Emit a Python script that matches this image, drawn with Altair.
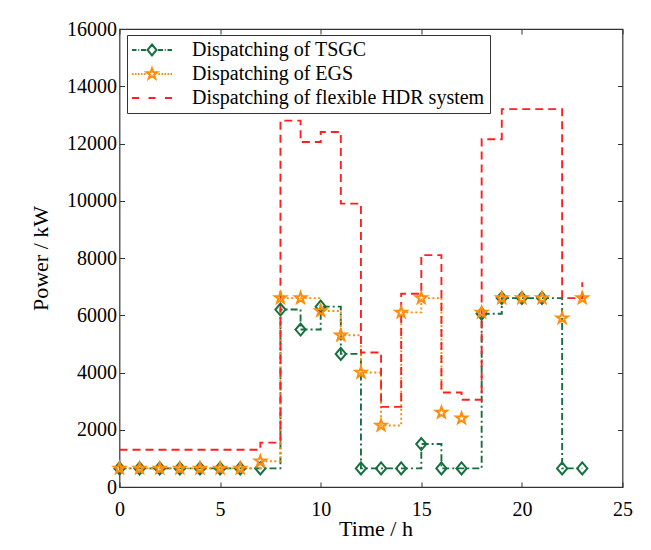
import altair as alt
import pandas as pd

# ---------------- data ----------------
hours = list(range(24))
tsgc = [650, 650, 650, 650, 650, 650, 650, 650, 6200, 5500, 6300, 4650,
        650, 650, 650, 1500, 650, 650, 6050, 6600, 6600, 6600, 650, 650]
egs = [650, 650, 650, 650, 650, 650, 650, 900, 6600, 6600, 6150, 5300,
       4000, 2150, 6100, 6600, 2600, 2400, 6100, 6600, 6600, 6600, 5900, 6600]
hdr = [1300, 1300, 1300, 1300, 1300, 1300, 1300, 1550, 12800, 12050, 12400, 9900,
       4700, 2800, 6750, 8100, 3300, 3050, 12150, 13200, 13200, 13200, 6600, 7150]
# the EGS stair line in the figure stops at hour 16
egs_line_hours = list(range(17))
egs_line = [650, 650, 650, 650, 650, 650, 650, 900, 6600, 6600, 6150, 5300,
            4000, 2150, 6100, 6600, 3300]

series = ["Dispatching of TSGC", "Dispatching of EGS",
          "Dispatching of flexible HDR system"]
x_ticks = [0, 5, 10, 15, 20, 25]
y_ticks = [0, 2000, 4000, 6000, 8000, 10000, 12000, 14000, 16000]

# ---------------- styling ----------------
GREEN = "#15703f"
ORANGE = "#ff8c0a"
RED = "#ff1f1f"
FONT = "Liberation Serif"
AX = "#333333"

df_t = pd.DataFrame({"hour": hours, "value": tsgc})
df_e = pd.DataFrame({"hour": hours, "value": egs})
df_h = pd.DataFrame({"hour": hours, "value": hdr})
df_el = pd.DataFrame({"hour": egs_line_hours, "value": egs_line})
df_leg = pd.concat([
    pd.DataFrame({"hour": hours, "value": tsgc, "series": series[0]}),
    pd.DataFrame({"hour": hours, "value": egs, "series": series[1]}),
    pd.DataFrame({"hour": hours, "value": hdr, "series": series[2]}),
])

xs = alt.Scale(domain=[0, 25], nice=False, zero=False)
ys = alt.Scale(domain=[0, 16000], nice=False)

DIAMOND = "M0,-1L0.85,0L0,1L-0.85,0Z"
STAR = ("M0,-1L0.235,-0.324L0.951,-0.309L0.380,0.124L0.588,0.809L0,0.4"
        "L-0.588,0.809L-0.380,0.124L-0.951,-0.309L-0.235,-0.324Z")


def seg(a, b):
    return f"M{a:.2f},0L{b:.2f},0"


# legend symbols: line sample + marker (scale: 5 px per unit)
leg_green = (seg(-4, -3.1) + seg(-2.75, -2.55) + seg(-2.2, -1.2)
             + "M0,-1.1L0.9,0L0,1.1L-0.9,0Z"
             + seg(1.2, 2.2) + seg(2.55, 2.75) + seg(3.1, 4))
dots_l = "".join(seg(-4 + i * 0.6, -4 + i * 0.6 + 0.3) for i in range(5))
dots_r = "".join(seg(1.3 + i * 0.6, 1.3 + i * 0.6 + 0.3) for i in range(5))
leg_orange = (dots_l
              + "M0,-1.15L0.27,-0.37L1.09,-0.36L0.44,0.14L0.68,0.93L0,0.46"
                "L-0.68,0.93L-0.44,0.14L-1.09,-0.36L-0.27,-0.37Z"
              + dots_r)
leg_red = seg(-4, -2.6) + seg(-0.7, 0.7) + seg(2.6, 4)

# ---------------- axes ----------------
x_main = alt.Axis(values=x_ticks, title="Time / h", ticks=False, tickSize=0,
                  domain=False, grid=False, labelFont=FONT, labelFontSize=20,
                  labelColor="black", labelPadding=12, labelFlush=False,
                  labelOverlap=False, format="d", titleFont=FONT,
                  titleFontSize=22, titleFontWeight="normal",
                  titleColor="black", titleX=256, titleY=48.5,
                  titleBaseline="alphabetic")
y_main = alt.Axis(values=y_ticks, title="Power / kW", ticks=False, tickSize=0,
                  domain=False, grid=False, labelFont=FONT, labelFontSize=20,
                  labelColor="black", labelPadding=3, labelFlush=False,
                  labelOverlap=False, format="d", titleFont=FONT,
                  titleFontSize=22, titleFontWeight="normal",
                  titleColor="black", titleX=-72, titleY=229,
                  titleBaseline="alphabetic")


def tick_axis(orient, vals):
    return alt.Axis(orient=orient, values=vals, labels=False, domain=False,
                    grid=False, ticks=True, tickSize=5, offset=-5,
                    tickColor=AX, tickWidth=1, title=None)


# ---------------- layers ----------------
line_t = alt.Chart(df_t).mark_line(
    interpolate="step-after", color=GREEN, strokeWidth=1.9,
    strokeDash=[7, 3, 2, 3]
).encode(
    x=alt.X("hour:Q", scale=xs, axis=x_main),
    y=alt.Y("value:Q", scale=ys, axis=y_main),
)

line_e = alt.Chart(df_el).mark_line(
    interpolate="step-after", color=ORANGE, strokeWidth=1.9,
    strokeDash=[2, 2.5]
).encode(
    x=alt.X("hour:Q", scale=xs, axis=tick_axis("bottom", x_ticks)),
    y=alt.Y("value:Q", scale=ys, axis=tick_axis("left", y_ticks)),
)

line_h = alt.Chart(df_h).mark_line(
    interpolate="step-after", color=RED, strokeWidth=1.9,
    strokeDash=[8, 5]
).encode(
    x=alt.X("hour:Q", scale=xs, axis=tick_axis("top", x_ticks)),
    y=alt.Y("value:Q", scale=ys, axis=tick_axis("right", y_ticks)),
)

pts_t = alt.Chart(df_t).mark_point(
    shape=DIAMOND, size=144, filled=False, color=GREEN, strokeWidth=2,
    opacity=1
).encode(
    x=alt.X("hour:Q", scale=xs, axis=None),
    y=alt.Y("value:Q", scale=ys, axis=None),
)

pts_e = alt.Chart(df_e).mark_point(
    shape=STAR, size=135, filled=False, color=ORANGE, strokeWidth=2,
    opacity=1
).encode(
    x=alt.X("hour:Q", scale=xs, axis=None),
    y=alt.Y("value:Q", scale=ys, axis=None),
)

legend = alt.Legend(
    title=None, orient="none", legendX=7.5, legendY=6,
    labelFont=FONT, labelFontSize=20, labelColor="black",
    symbolSize=100, symbolStrokeWidth=2, symbolOpacity=1,
    symbolOffset=10, labelOffset=30, rowPadding=4, padding=5,
    strokeColor=AX, fillColor="white", labelLimit=400,
)

leg_layer = alt.Chart(df_leg).mark_point(filled=False, opacity=0).encode(
    x=alt.X("hour:Q", scale=xs, axis=None),
    y=alt.Y("value:Q", scale=ys, axis=None),
    color=alt.Color("series:N",
                    scale=alt.Scale(domain=series, range=[GREEN, ORANGE, RED]),
                    legend=legend),
    shape=alt.Shape("series:N",
                    scale=alt.Scale(domain=series,
                                    range=[leg_green, leg_orange, leg_red]),
                    legend=legend),
)

chart = alt.layer(
    line_t, line_e, line_h, pts_t, pts_e, leg_layer
).resolve_scale(
    x="shared", y="shared"
).resolve_axis(
    x="independent", y="independent"
).properties(
    width=503, height=458,
    autosize=alt.AutoSizeParams(type="none"),
    padding={"left": 111.5, "top": 21, "right": 12, "bottom": 55},
    background="white",
).configure_view(
    stroke=AX, strokeWidth=1.2
)

chart.save("out.html", embed_options={"renderer": "svg", "actions": False})
